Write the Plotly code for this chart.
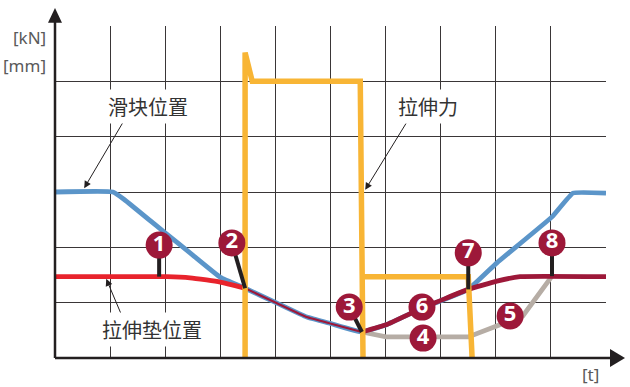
import plotly.graph_objects as go

# ---- data (x: time grid units 0..10, y: grid units 0..6) ----
slide_x = [0, 1.05, 1.25, 2.0, 2.5, 3.0, 3.45, 4.01, 4.57, 5.01, 5.57, 6.01, 6.66, 7.50, 8.02, 9.02, 9.40, 10]
slide_y = [3.0, 3.0, 2.87, 2.26, 1.86, 1.46, 1.26, 1.00, 0.74, 0.62, 0.47, 0.60, 0.90, 1.24, 1.72, 2.55, 2.98, 2.98]

pad_x = [0, 2.03, 2.45, 2.75, 3.0, 3.45]
pad_y = [1.47, 1.47, 1.45, 1.41, 1.37, 1.26]

shared_x = [3.45, 4.01, 4.57, 5.01, 5.57]
shared_y = [1.26, 1.00, 0.74, 0.62, 0.47]

pad_return_x = [5.57, 6.01, 6.66, 7.50, 8.02, 8.44, 10]
pad_return_y = [0.47, 0.60, 0.90, 1.24, 1.39, 1.47, 1.47]

pad_hold_x = [5.57, 6.01, 7.50, 8.49, 9.02]
pad_hold_y = [0.47, 0.38, 0.38, 0.76, 1.48]

force_x = [3.45, 3.45, 3.58, 5.54, 5.59, None, 5.57, 7.50, 7.57]
force_y = [0, 5.52, 5.0, 5.0, 0, None, 1.47, 1.47, 0]

step_labels = ["1", "2", "3", "4", "5", "6", "7", "8"]
step_x = [1.89, 3.21, 5.34, 6.68, 8.26, 6.66, 7.50, 9.02]
step_y = [2.04, 2.08, 0.92, 0.36, 0.76, 0.92, 1.90, 2.08]
step_anchor_x = [1.89, 3.45, 5.57, None, None, None, 7.50, 9.02]
step_anchor_y = [1.47, 1.26, 0.47, None, None, None, 1.24, 1.48]

label_slide = "滑块位置"
label_force = "拉伸力"
label_pad = "拉伸垫位置"
unit_y1 = "[kN]"
unit_y2 = "[mm]"
unit_x = "[t]"

BLUE = "#5b95c9"
RED = "#e8232c"
MAROON = "#9d1839"
GREY = "#b6ada5"
ORANGE = "#f8b535"
DARK = "#231f20"
CJK = "Noto Sans CJK SC"

fig = go.Figure()

fig.add_trace(go.Scatter(x=slide_x, y=slide_y, mode="lines",
                         line=dict(color=BLUE, width=4.8, shape="spline", smoothing=0.3)))
fig.add_trace(go.Scatter(x=pad_x, y=pad_y, mode="lines",
                         line=dict(color=RED, width=4.8, shape="spline", smoothing=0.3)))
fig.add_trace(go.Scatter(x=shared_x, y=shared_y, mode="lines",
                         line=dict(color=MAROON, width=2.2, shape="spline", smoothing=0.3)))
fig.add_trace(go.Scatter(x=pad_hold_x, y=pad_hold_y, mode="lines",
                         line=dict(color=GREY, width=4.8)))
fig.add_trace(go.Scatter(x=pad_return_x, y=pad_return_y, mode="lines",
                         line=dict(color=MAROON, width=4.8, shape="spline", smoothing=0.3)))
fig.add_trace(go.Scatter(x=force_x, y=force_y, mode="lines",
                         line=dict(color=ORANGE, width=5.5), connectgaps=False))

# stems from numbered markers to their points
for sx, sy, ax_, ay_ in zip(step_x, step_y, step_anchor_x, step_anchor_y):
    if ax_ is None:
        continue
    fig.add_trace(go.Scatter(x=[sx, ax_], y=[sy, ay_], mode="lines",
                             line=dict(color=DARK, width=4)))

fig.add_trace(go.Scatter(
    x=step_x, y=step_y, mode="markers+text",
    marker=dict(size=27, color=MAROON, line=dict(width=0)),
    text=["<b>%s</b>" % s for s in step_labels], textposition="middle center",
    textfont=dict(color="white", size=22, family="Noto Sans")))

annotations = []
# arrows
for (tx, ty, hx, hy) in [(1.27, 4.32, 0.53, 3.07), (6.39, 4.27, 5.63, 3.04), (1.27, 0.63, 0.93, 1.43)]:
    annotations.append(dict(x=hx, y=hy, ax=tx, ay=ty, xref="x", yref="y", axref="x", ayref="y",
                            text="", showarrow=True, arrowhead=2, arrowsize=1.4, arrowwidth=1,
                            arrowcolor=DARK))
# labels
for (txt, tx, ty) in [(label_slide, 1.69, 4.54), (label_force, 6.77, 4.54), (label_pad, 1.76, 0.51)]:
    annotations.append(dict(x=tx, y=ty, xref="x", yref="y", text=txt, showarrow=False,
                            font=dict(family=CJK, size=20, color="#333333"),
                            bgcolor="white", borderpad=2))
annotations.append(dict(x=-0.012, y=0.964, xref="paper", yref="paper", text=unit_y1, showarrow=False,
                        xanchor="right", yanchor="middle", font=dict(family="Noto Sans", size=17, color="#5a5a5a")))
annotations.append(dict(x=-0.012, y=0.882, xref="paper", yref="paper", text=unit_y2, showarrow=False,
                        xanchor="right", yanchor="middle", font=dict(family="Noto Sans", size=17, color="#5a5a5a")))
annotations.append(dict(x=0.971, y=-0.051, xref="paper", yref="paper", text=unit_x, showarrow=False,
                        xanchor="center", yanchor="middle", font=dict(family="Noto Sans", size=17, color="#5a5a5a")))

shapes = [
    dict(type="line", xref="paper", yref="paper", x0=0, y0=0, x1=0, y1=1.02,
         line=dict(color=DARK, width=2.5)),
    dict(type="path", xref="paper", yref="paper", path="M 0 1.054 L -0.0127 1.010 L 0.0127 1.010 Z",
         fillcolor=DARK, line=dict(width=0)),
    dict(type="line", xref="paper", yref="paper", x0=0, y0=0, x1=1.01, y1=0,
         line=dict(color=DARK, width=2.5)),
    dict(type="path", xref="paper", yref="paper", path="M 1.0345 0 L 1.0073 0.0271 L 1.0073 -0.0271 Z",
         fillcolor=DARK, line=dict(width=0)),
]

fig.update_layout(
    width=630, height=387,
    margin=dict(l=55, r=24, t=26, b=29),
    paper_bgcolor="white", plot_bgcolor="white",
    showlegend=False,
    annotations=annotations,
    shapes=shapes,
    xaxis=dict(range=[0, 10], dtick=1, tick0=0, showgrid=True, gridcolor="#3a3637", gridwidth=1.4,
               zeroline=False, showline=False, showticklabels=False, ticks="", fixedrange=True),
    yaxis=dict(range=[0, 6], dtick=1, tick0=0, showgrid=True, gridcolor="#3a3637", gridwidth=1.4,
               zeroline=False, showline=False, showticklabels=False, ticks="", fixedrange=True),
)

fig.write_html("out.html", config={"displayModeBar": False},
               post_script="document.body.style.margin='0';document.body.style.overflow='hidden';")
